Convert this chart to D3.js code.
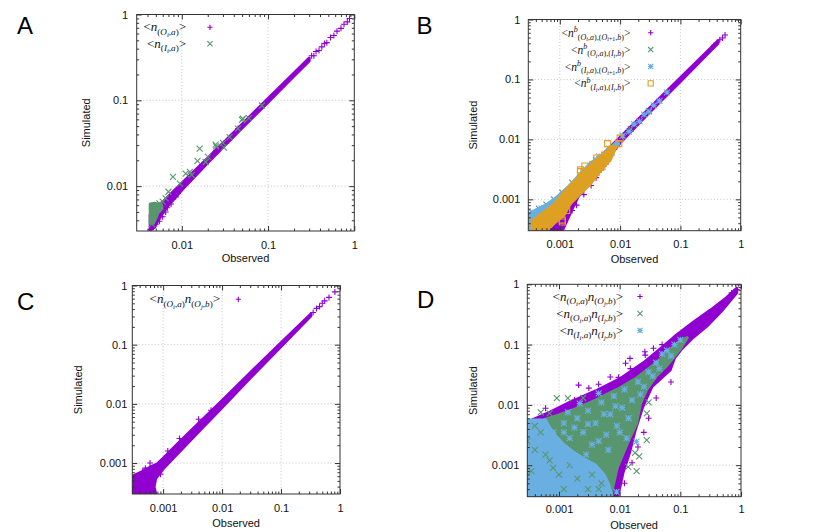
<!DOCTYPE html>
<html><head><meta charset="utf-8">
<script src="https://cdn.jsdelivr.net/npm/d3@7"></script>
<style>body{margin:0;background:#fff}svg{display:block}</style>
</head><body>
<svg id="c" width="830" height="532"></svg>
<script>
// ---------------- DATA ----------------
const ticksA = [0.01, 0.1, 1];
const tickLabelsA = ["0.01", "0.1", "1"];
const ticksBCD = [0.001, 0.01, 0.1, 1];
const tickLabelsBCD = ["0.001", "0.01", "0.1", "1"];

const legendA = ["<n_{(O_i,a)}>", "<n_{(I_i,a)}>"];
const legendB = ["<n^b_{(O_i,a),(O_{i+1},b)}>", "<n^b_{(O_i,a),(I_i,b)}>", "<n^b_{(I_i,a),(O_{i+1},b)}>", "<n^b_{(I_i,a),(I_i,b)}>"];
const legendC = ["<n_{(O_i,a)}n_{(O_j,b)}>"];
const legendD = ["<n_{(O_i,a)}n_{(O_j,b)}>", "<n_{(O_i,a)}n_{(I_j,b)}>", "<n_{(I_i,a)}n_{(I_j,b)}>"];

// Panel A: dense envelope of the <n(O_i,a)> points, plus single points
const aOBand = [[0.0043,0.0046],[0.0055,0.0059],[0.007,0.0076],[0.01,0.0108],[0.02,0.0212],[0.05,0.0525],[0.1,0.105],[0.2,0.208],[0.3,0.31],[0.3,0.288],[0.2,0.192],[0.1,0.095],[0.05,0.0475],[0.02,0.0188],[0.01,0.009],[0.007,0.006],[0.0055,0.0043],[0.0048,0.0033],[0.0043,0.0031]];
const aOPts = [[0.0044,0.0031],[0.0046,0.0034],[0.0047,0.0037],[0.005,0.0036],[0.0055,0.0039],[0.0057,0.0044],[0.006,0.0044],[0.0058,0.0048],[0.0065,0.005],[0.0068,0.0056],[0.0075,0.0062],[0.0085,0.0075],[0.009,0.0082],[0.012,0.0115],[0.016,0.0155],[0.025,0.026],[0.035,0.034],[0.045,0.047],[0.32,0.33],[0.34,0.33],[0.36,0.37],[0.39,0.38],[0.42,0.42],[0.45,0.46],[0.48,0.47],[0.53,0.54],[0.58,0.57],[0.63,0.64],[0.7,0.69],[0.76,0.77],[0.83,0.82],[0.88,0.9]];
const aIBlock = [[0.0043,0.0037],[0.0043,0.0062],[0.0049,0.0063],[0.0058,0.0061],[0.0059,0.0055],[0.0053,0.0049],[0.005,0.0042],[0.0047,0.0037]];
const aIPts = [[0.0045,0.0036],[0.0047,0.0058],[0.0052,0.006],[0.0055,0.0063],[0.006,0.0066],[0.0065,0.0072],[0.007,0.0086],[0.0079,0.0128],[0.0095,0.0107],[0.0111,0.014],[0.0124,0.0147],[0.0152,0.0197],[0.0161,0.0273],[0.0189,0.0191],[0.0201,0.0219],[0.0247,0.0305],[0.025,0.029],[0.0308,0.0281],[0.0358,0.0373],[0.0447,0.0468],[0.051,0.061],[0.05,0.059],[0.013,0.0135],[0.03,0.032],[0.06,0.062],[0.085,0.087]];

// Panel B
const bOOBand = [[0.0005,0.00055],[0.001,0.0011],[0.003,0.0033],[0.01,0.0108],[0.03,0.0325],[0.1,0.106],[0.3,0.315],[0.42,0.44],[0.42,0.4],[0.3,0.285],[0.1,0.093],[0.03,0.0275],[0.01,0.0088],[0.006,0.0046],[0.003,0.0018],[0.002,0.0011],[0.0015,0.0006],[0.0011,0.0003],[0.0005,0.0003]];
const bOOPts = [[0.0009,0.0003],[0.001,0.00036],[0.0012,0.00042],[0.0013,0.0005],[0.0016,0.00065],[0.0019,0.0008],[0.0025,0.0012],[0.0033,0.0017],[0.004,0.0023],[0.0048,0.0031],[0.0058,0.0039],[0.0072,0.0055],[0.008,0.0068],[0.36,0.37],[0.45,0.46],[0.5,0.49],[0.55,0.55]];
const bOIPts = [[0.00035,0.0006],[0.00045,0.0007],[0.0006,0.00082],[0.0008,0.001],[0.0011,0.0013],[0.0016,0.0019],[0.004,0.0045],[0.015,0.015],[0.03,0.03]];
const bIOBand = [[0.0003,0.00057],[0.00042,0.00068],[0.00061,0.00082],[0.0009,0.0011],[0.0015,0.00175],[0.0022,0.0027],[0.0032,0.004],[0.0054,0.0058],[0.0089,0.0092],[0.0095,0.0085],[0.005,0.0042],[0.003,0.0022],[0.0015,0.0009],[0.0008,0.0004],[0.0006,0.0003],[0.0003,0.0003]];
const bIOPts = [[0.011,0.0115],[0.014,0.0135],[0.017,0.018],[0.021,0.02],[0.025,0.026],[0.03,0.029],[0.036,0.037],[0.045,0.044],[0.06,0.061],[0.0065,0.007],[0.0045,0.0052],[0.00035,0.0006],[0.0005,0.0007]];
const bIIBand = [[0.00035,0.0003],[0.00035,0.00043],[0.0005,0.00057],[0.0008,0.00082],[0.0012,0.00135],[0.002,0.0023],[0.003,0.0034],[0.005,0.0054],[0.0075,0.0076],[0.0085,0.0074],[0.0069,0.0046],[0.0047,0.003],[0.0032,0.0018],[0.0022,0.00125],[0.0015,0.00085],[0.00116,0.00054],[0.0008,0.0004],[0.0006,0.0003]];
const bIIPts = [[0.00035,0.00042],[0.0004,0.00035],[0.0005,0.0005],[0.0007,0.00065],[0.0009,0.0006],[0.0011,0.00045],[0.0012,0.0009],[0.0013,0.00065],[0.0014,0.0012],[0.0016,0.0016],[0.0019,0.0019],[0.002,0.0015],[0.0022,0.0029],[0.0022,0.0031],[0.0025,0.0028],[0.0028,0.002],[0.003,0.0031],[0.0034,0.0024],[0.0035,0.0038],[0.004,0.0028],[0.0045,0.0042],[0.005,0.0035],[0.0055,0.0055],[0.0062,0.0085],[0.0062,0.0048],[0.007,0.0065],[0.0095,0.0085],[0.01,0.0105],[0.0011,0.00042],[0.0026,0.0036],[0.0041,0.0049]];

// Panel C
const cOOBand = [[0.0003,0.0006],[0.0004,0.00068],[0.0006,0.00085],[0.0008,0.00097],[0.001,0.0012],[0.002,0.0024],[0.004,0.0047],[0.01,0.0114],[0.03,0.0335],[0.1,0.107],[0.32,0.33],[0.32,0.305],[0.1,0.093],[0.03,0.0275],[0.01,0.0087],[0.004,0.0034],[0.002,0.00165],[0.001,0.0008],[0.00075,0.00055],[0.0007,0.0004],[0.00075,0.0003],[0.0003,0.0003]];
const cOOPts = [[0.0006,0.001],[0.0005,0.00082],[0.00045,0.00072],[0.0009,0.00065],[0.0012,0.0016],[0.0019,0.0026],[0.004,0.0055],[0.0065,0.0078],[0.35,0.35],[0.4,0.41],[0.45,0.44],[0.5,0.5],[0.55,0.55],[0.65,0.63],[0.82,0.78]];

// Panel D
const dOOCloud = [[0.0003,0.0052],[0.0007,0.0075],[0.0015,0.011],[0.004,0.017],[0.01,0.027],[0.026,0.052],[0.05,0.09],[0.087,0.145],[0.164,0.235],[0.31,0.37],[0.58,0.6],[0.85,0.86],[0.85,0.72],[0.5,0.38],[0.27,0.2],[0.16,0.13],[0.105,0.085],[0.08,0.06],[0.068,0.038],[0.034,0.02],[0.024,0.0093],[0.018,0.0038],[0.0145,0.0016],[0.0113,0.00074],[0.0093,0.0003],[0.0003,0.0003]];
const dOOPts = [[0.0006,0.0088],[0.00066,0.0068],[0.0012,0.0082],[0.0018,0.012],[0.0021,0.0213],[0.0031,0.019],[0.0045,0.022],[0.007,0.029],[0.0096,0.0286],[0.0125,0.049],[0.0148,0.059],[0.015,0.04],[0.026,0.076],[0.0264,0.067],[0.036,0.087],[0.05,0.1],[0.07,0.024],[0.04,0.013],[0.03,0.006],[0.025,0.0035],[0.02,0.002],[0.016,0.0011],[0.012,0.0005],[0.7,0.72],[0.85,0.82]];
const dOICloud = [[0.0004,0.0045],[0.0006,0.0058],[0.001,0.0068],[0.002,0.0088],[0.004,0.012],[0.007,0.016],[0.01,0.019],[0.02,0.029],[0.04,0.05],[0.07,0.085],[0.1,0.115],[0.13,0.13],[0.1,0.085],[0.06,0.045],[0.04,0.03],[0.028,0.018],[0.022,0.0105],[0.019,0.005],[0.0134,0.0023],[0.0091,0.0009],[0.0071,0.0003],[0.0004,0.0003]];
const dOIPts = [[0.00092,0.0129],[0.0014,0.0129],[0.0005,0.0075],[0.0007,0.0072],[0.0025,0.013],[0.0279,0.0026],[0.0179,0.0016],[0.0138,0.00094],[0.028,0.0072],[0.021,0.0014],[0.019,0.0008],[0.03,0.011],[0.00035,0.0008],[0.0004,0.0018],[0.0005,0.0035],[0.0007,0.0012],[0.001,0.0007],[0.0012,0.0004],[0.0015,0.001],[0.002,0.0006],[0.003,0.0004],[0.0004,0.0045],[0.0008,0.0009],[0.0035,0.0007],[0.005,0.0005],[0.0045,0.0004],[0.0003,0.0025],[0.0006,0.0015]];
const dIICloud = [[0.0003,0.0003],[0.0003,0.0056],[0.0006,0.0056],[0.0007,0.0042],[0.0009,0.003],[0.0012,0.0022],[0.0018,0.0016],[0.0025,0.0013],[0.004,0.001],[0.0055,0.0007],[0.0065,0.0005],[0.0075,0.0003]];
const dIIPts = [[0.0008,0.0035],[0.0012,0.005],[0.0012,0.0035],[0.0015,0.0028],[0.0017,0.0011],[0.0018,0.0042],[0.002,0.006],[0.0025,0.0035],[0.0028,0.0015],[0.003,0.008],[0.003,0.0048],[0.0035,0.0022],[0.004,0.005],[0.0045,0.0025],[0.0045,0.0155],[0.005,0.011],[0.0055,0.007],[0.006,0.0032],[0.0065,0.0018],[0.007,0.007],[0.008,0.014],[0.0085,0.0095],[0.0089,0.00036],[0.009,0.0045],[0.01,0.0035],[0.011,0.009],[0.012,0.018],[0.013,0.0028],[0.014,0.006],[0.016,0.012],[0.0189,0.00245],[0.02,0.024],[0.022,0.015],[0.025,0.02],[0.03,0.035],[0.035,0.03],[0.04,0.05],[0.045,0.04],[0.05,0.07],[0.06,0.08],[0.07,0.065],[0.08,0.1],[0.1,0.12],[0.0009,0.0022],[0.0014,0.0075],[0.0022,0.0105]];

// ---------------- STYLE / LAYOUT ----------------
const PURPLE = "#9000d0", GREEN = "#58966e", BLUE = "#6aafe2", ORANGE = "#dea023";
const svg = d3.select("#c");

function symPath(type, s) {
  const plus = `M${-s},0H${s}M0,${-s}V${s}`;
  const cross = `M${-s},${-s}L${s},${s}M${-s},${s}L${s},${-s}`;
  if (type === "plus") return plus;
  if (type === "cross") return cross;
  if (type === "star") return plus + cross;
  return `M${-s},${-s}h${2*s}v${2*s}h${-2*s}Z`;
}

function parseRich(str, lvl, out) {
  let i = 0;
  while (i < str.length) {
    const c = str[i];
    if (c === "_" || c === "^") {
      const nl = c === "_" ? (lvl >= 1 ? lvl + 1 : 1) : -1;
      i++;
      let content;
      if (str[i] === "{") {
        let depth = 1, j = i + 1;
        while (depth) { if (str[j] === "{") depth++; else if (str[j] === "}") depth--; j++; }
        content = str.slice(i + 1, j - 1); i = j;
      } else { content = str[i]; i++; }
      parseRich(content, nl, out);
    } else { out.push([c, lvl, /[A-Za-z]/.test(c)]); i++; }
  }
  return out;
}

function richText(sel, str, base) {
  const chars = parseRich(str, 0, []);
  const segs = [];
  chars.forEach(c => {
    const last = segs[segs.length - 1];
    if (last && last[1] === c[1] && last[2] === c[2]) last[0] += c[0];
    else segs.push([c[0], c[1], c[2]]);
  });
  const size = {"0": base, "1": base * 0.7, "2": base * 0.52, "-1": base * 0.7};
  const off = {"0": 0, "1": base * 0.25, "2": base * 0.4, "-1": -base * 0.4};
  let cur = 0;
  segs.forEach(([t, lv, it]) => {
    sel.append("tspan").attr("dy", off[lv] - cur)
      .style("font-size", size[lv] + "px")
      .style("font-style", it ? "italic" : "normal")
      .text(t);
    cur = off[lv];
  });
}

function panel(cfg) {
  const g = svg.append("g");
  const x = d3.scaleLog().domain(cfg.dom).range([cfg.x0, cfg.x1]);
  const y = d3.scaleLog().domain(cfg.dom).range([cfg.y1, cfg.y0]);
  const W = cfg.x1 - cfg.x0, H = cfg.y1 - cfg.y0;

  // grid
  const inner = cfg.ticks.filter(v => x(v) > cfg.x0 + 1 && x(v) < cfg.x1 - 1);
  const innerY = cfg.ticks.filter(v => y(v) > cfg.y0 + 1 && y(v) < cfg.y1 - 1);
  g.selectAll(null).data(inner).join("line")
    .attr("x1", d => x(d)).attr("x2", d => x(d)).attr("y1", cfg.y0).attr("y2", cfg.y1)
    .attr("stroke", "#bdbdbd").attr("stroke-width", 0.9).attr("stroke-dasharray", "1,2.2");
  g.selectAll(null).data(innerY).join("line")
    .attr("y1", d => y(d)).attr("y2", d => y(d)).attr("x1", cfg.x0).attr("x2", cfg.x1)
    .attr("stroke", "#bdbdbd").attr("stroke-width", 0.9).attr("stroke-dasharray", "1,2.2");

  // data
  const clipId = "clip" + cfg.name;
  svg.append("clipPath").attr("id", clipId).append("rect")
    .attr("x", cfg.x0).attr("y", cfg.y0).attr("width", W).attr("height", H);
  const dg = g.append("g").attr("clip-path", `url(#${clipId})`);
  const line = d3.line().x(d => x(d[0])).y(d => y(d[1])).curve(d3.curveLinearClosed);
  cfg.layers.forEach(L => {
    if (L.area) {
      dg.append("path").datum(L.area).attr("d", line)
        .attr("fill", L.color).attr("stroke", L.color).attr("stroke-width", 3).attr("stroke-linejoin", "round");
    }
    if (L.pts) {
      dg.append("g").selectAll("path").data(L.pts).join("path")
        .attr("transform", d => `translate(${x(d[0])},${y(d[1])})`)
        .attr("d", symPath(L.type, 3)).attr("fill", "none")
        .attr("stroke", L.color).attr("stroke-width", 1.1);
    }
  });

  // ticks (all four sides, inward)
  const minor = [];
  for (let k = -4; k <= 0; k++) for (let m = 2; m <= 9; m++) {
    const v = m * Math.pow(10, k);
    if (v > cfg.dom[0] * 1.02 && v < cfg.dom[1] * 0.98) minor.push(v);
  }
  const fmt = d => cfg.labels[cfg.ticks.indexOf(d)];
  const axes = [
    [d3.axisBottom(x), `translate(0,${cfg.y1})`, true, cfg.padX],
    [d3.axisTop(x), `translate(0,${cfg.y0})`, false, 0],
    [d3.axisLeft(y), `translate(${cfg.x0},0)`, true, cfg.padY],
    [d3.axisRight(y), `translate(${cfg.x1},0)`, false, 0]
  ];
  axes.forEach(([ax, tr, lab, pad]) => {
    const a1 = g.append("g").attr("transform", tr)
      .call(ax.tickValues(cfg.ticks).tickSizeInner(-5).tickSizeOuter(0).tickPadding(pad)
        .tickFormat(lab ? fmt : () => ""));
    a1.select(".domain").remove();
    a1.selectAll("line").attr("stroke", "#333");
    a1.selectAll("text").attr("fill", "#111").style("font-family", "'Liberation Sans', Arial, sans-serif").style("font-size", "11px");
    const a2 = g.append("g").attr("transform", tr)
      .call(ax.tickValues(minor).tickSizeInner(-2.5).tickSizeOuter(0).tickFormat(() => ""));
    a2.select(".domain").remove();
    a2.selectAll("line").attr("stroke", "#333");
  });
  g.append("rect").attr("x", cfg.x0).attr("y", cfg.y0).attr("width", W).attr("height", H)
    .attr("fill", "none").attr("stroke", "#333").attr("stroke-width", 1);

  // axis titles
  const tf = "'Liberation Sans', Arial, sans-serif";
  g.append("text").attr("x", (cfg.x0 + cfg.x1) / 2).attr("y", cfg.obsY)
    .attr("text-anchor", "middle").attr("dominant-baseline", "central")
    .style("font-family", tf).style("font-size", "11px").attr("fill", "#111").text("Observed");
  g.append("text").attr("transform", `translate(${cfg.simX},${(cfg.y0 + cfg.y1) / 2}) rotate(-90)`)
    .attr("text-anchor", "middle").attr("dominant-baseline", "central")
    .style("font-family", tf).style("font-size", "11px").attr("fill", "#111").text("Simulated");
  g.append("text").attr("x", cfg.letterX).attr("y", cfg.letterY)
    .style("font-family", tf).style("font-size", "24px").attr("fill", "#000").text(cfg.name);

  // legend
  cfg.legend.forEach((str, i) => {
    const L = cfg.layers.filter(l => l.key)[i];
    const yy = cfg.legY + i * cfg.legStep;
    const t = g.append("text").attr("x", cfg.legTextX).attr("y", yy + 4)
      .attr("text-anchor", "end").attr("fill", "#111")
      .style("font-family", "'Liberation Serif', 'DejaVu Serif', serif");
    richText(t, str, cfg.legSize);
    g.append("path").attr("transform", `translate(${cfg.legSymX},${yy})`)
      .attr("d", symPath(L.type, 2.6)).attr("fill", "none").attr("stroke", L.color).attr("stroke-width", 1.1);
  });
}

panel({name: "A", dom: [0.003, 1], x0: 136.7, x1: 354.3, y0: 14.5, y1: 231,
  ticks: ticksA, labels: tickLabelsA, padX: 10, padY: 8.5, obsY: 258.3, simX: 86,
  letterX: 17, letterY: 33.5, legend: legendA, legSize: 13, legY: 27.3, legStep: 16.4, legTextX: 186, legSymX: 210,
  layers: [
    {key: 1, area: aOBand, pts: aOPts, type: "plus", color: PURPLE},
    {key: 1, area: aIBlock, pts: aIPts, type: "cross", color: GREEN}
  ]});

panel({name: "B", dom: [0.0003, 1], x0: 528.3, x1: 740.7, y0: 19.5, y1: 230.7,
  ticks: ticksBCD, labels: tickLabelsBCD, padX: 10, padY: 8, obsY: 259.3, simX: 473.3,
  letterX: 416.5, letterY: 33.5, legend: legendB, legSize: 11.5, legY: 32.7, legStep: 16.9, legTextX: 630.5, legSymX: 650.7,
  layers: [
    {key: 1, area: bOOBand, pts: bOOPts, type: "plus", color: PURPLE},
    {key: 1, pts: bOIPts, type: "cross", color: GREEN},
    {key: 1, area: bIOBand, pts: bIOPts, type: "star", color: BLUE},
    {key: 1, area: bIIBand, pts: bIIPts, type: "square", color: ORANGE}
  ]});

panel({name: "C", dom: [0.0003, 1], x0: 132.3, x1: 340, y0: 285.5, y1: 494,
  ticks: ticksBCD, labels: tickLabelsBCD, padX: 10, padY: 5, obsY: 522.7, simX: 78.3,
  letterX: 17, letterY: 309.5, legend: legendC, legSize: 13, legY: 299.3, legStep: 17, legTextX: 220, legSymX: 238.3,
  layers: [
    {key: 1, area: cOOBand, pts: cOOPts, type: "plus", color: PURPLE}
  ]});

panel({name: "D", dom: [0.0003, 1], x0: 527.3, x1: 741, y0: 284.3, y1: 496.7,
  ticks: ticksBCD, labels: tickLabelsBCD, padX: 9, padY: 8, obsY: 525, simX: 473.3,
  letterX: 417, letterY: 307.5, legend: legendD, legSize: 13, legY: 296.5, legStep: 17, legTextX: 623, legSymX: 640,
  layers: [
    {key: 1, area: dOOCloud, pts: dOOPts, type: "plus", color: PURPLE},
    {key: 1, area: dOICloud, type: "cross", color: GREEN},
    {key: 1, area: dIICloud, type: "star", color: BLUE},
    {pts: dOIPts, type: "cross", color: GREEN},
    {pts: dIIPts, type: "star", color: BLUE}
  ]});
</script>
</body></html>
